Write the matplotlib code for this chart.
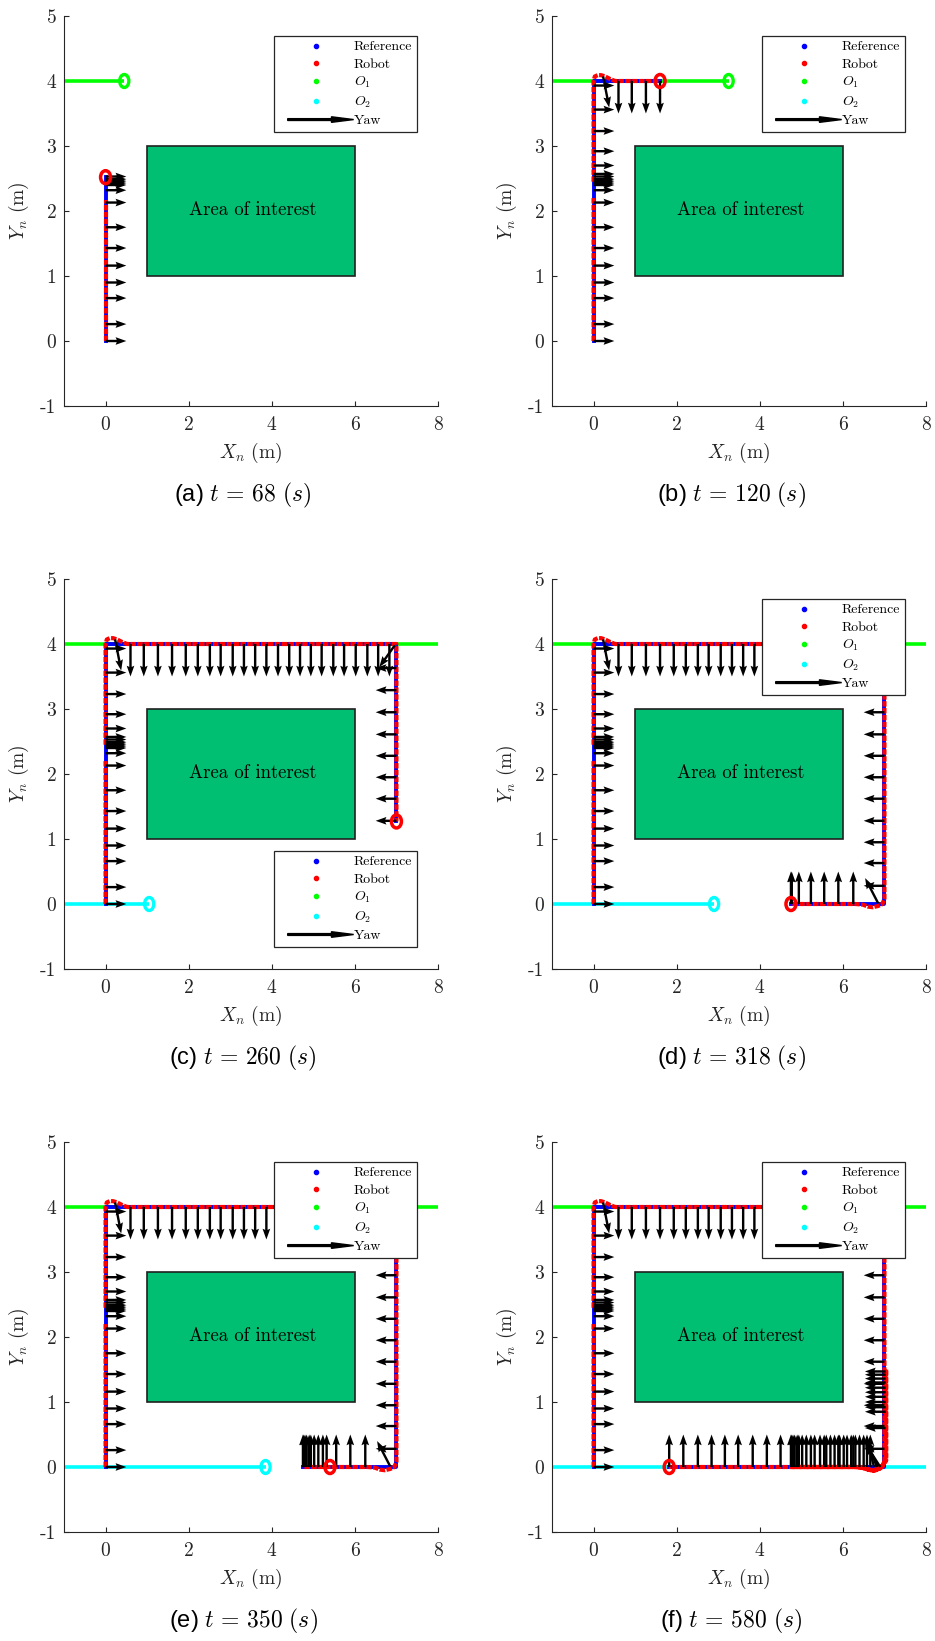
import matplotlib
matplotlib.use('Agg')
import matplotlib.pyplot as plt
import numpy as np
from matplotlib.lines import Line2D
from matplotlib.patches import Rectangle, Ellipse, FancyArrow
from matplotlib.legend_handler import HandlerBase

plt.rcParams['font.family'] = 'cmr10'
plt.rcParams['mathtext.fontset'] = 'cm'
plt.rcParams['axes.unicode_minus'] = False
plt.rcParams['axes.formatter.use_mathtext'] = True

# ---- data ----
captions = ['(a)', '(b)', '(c)', '(d)', '(e)', '(f)']
times = [68, 120, 260, 318, 350, 580]

xticks = [0, 2, 4, 6, 8]
xticklabels = ['0', '2', '4', '6', '8']
yticks = [-1, 0, 1, 2, 3, 4, 5]
yticklabels = ['-1', '0', '1', '2', '3', '4', '5']

# area of interest
aoi_x0, aoi_y0, aoi_w, aoi_h = 1, 1, 5, 2

# robot (current position) per panel
robot_px = [0.0, 1.6, 7.0, 4.75, 5.4, 1.82]
robot_py = [2.52, 4.0, 1.27, 0.0, 0.0, 0.0]

# obstacle tracks: O1 along y=4, O2 along y=0 (None = not present yet)
o1_end = [0.45, 3.25, 9.0, 9.0, 9.0, 9.0]
o2_end = [None, None, 1.05, 2.9, 3.85, 9.0]

# reference trajectory per panel
ref_paths_x = [[0, 0], [0, 0, 1.6], [0, 0, 7, 7], [0, 0, 7, 7, 4.75],
               [0, 0, 7, 7, 4.75], [0, 0, 7, 7, 1.82]]
ref_paths_y = [[0, 2.52], [0, 4, 4], [0, 4, 4, 1.27], [0, 4, 4, 0, 0],
               [0, 4, 4, 0, 0], [0, 4, 4, 0, 0]]

# robot trajectory pieces
rob_a_x = [0, 0]
rob_a_y = [0, 2.17]
rob_up_x = [0, 0, np.nan, 0, 0, 0.03, 0.1, 0.18, 0.28, 0.4, 0.52, 0.65]
rob_up_y = [0, 2.2, np.nan, 2.45, 4.0, 4.07, 4.09, 4.09, 4.07, 4.03, 4.0, 4.0]
rob_top_x = [7.0]
rob_top_y = [4.0]
rob_right_x = [7.0]
rob_right_y = [0.08]
rob_bot_x = [6.95, 6.85, 6.72, 6.6, 6.48, 6.3, 5.5, 4.75]
rob_bot_y = [0.0, -0.03, -0.05, -0.04, -0.01, 0.0, 0.0, 0.0]
rob_back_x = [6.4, 6.6, 6.75, 6.9, 7.04, 7.04, 7.04, 6.85, 6.7, 6.5, 6.3, 1.82]
rob_back_y = [0.0, -0.04, -0.06, -0.02, 0.1, 1.5, 0.1, -0.04, -0.05, -0.01, 0.0, 0.0]

# yaw arrows, in time order (x, y, heading in degrees)
up1_y = [0.0, 0.26, 0.66, 0.90, 1.16, 1.43, 1.75, 2.13, 2.32, 2.40, 2.43, 2.46, 2.49, 2.53]
up2_y = [2.57, 2.70, 2.92, 3.23, 3.56, 3.93]
corner1 = (0.23, 4.07, -73)
top1_x = [0.60, 0.92, 1.26, 1.60]
top2_x = [1.93, 2.22, 2.51, 2.77, 3.06, 3.33, 3.60, 3.87, 4.15, 4.42, 4.68, 4.94,
          5.20, 5.48, 5.74, 6.02, 6.30, 6.56, 6.83]
corner2 = (6.96, 3.98, -138)
right1_y = [3.63, 3.29, 2.95, 2.61, 2.28, 1.95, 1.62, 1.28]
right2_y = [0.95, 0.63, 0.28]
corner3 = (6.85, 0.01, 129)
bot1_x = [6.25, 5.89, 5.55, 5.23, 4.94, 4.77, 4.75]
bot2_x = [4.80, 4.84, 4.90, 5.02, 5.12, 5.32]
bot3_x = [5.45, 5.6, 5.7, 5.8, 5.92, 6.02, 6.1, 6.2, 6.3, 6.4, 6.5, 6.58, 6.66]
corner4_x = [6.75, 6.82, 6.9]
corner4_deg = [112, 122, 135]
right3_y = [0.60, 0.85, 0.92, 1.0, 1.08, 1.15, 1.22, 1.30, 1.36, 1.42, 1.47]
bot4_x = [4.50, 4.17, 3.83, 3.48, 3.16, 2.84, 2.51, 2.16, 1.82]

yaw_x, yaw_y, yaw_deg, n_arrows = [], [], [], []
def add(xs, ys, ds):
    yaw_x.extend(xs); yaw_y.extend(ys); yaw_deg.extend(ds)

add([0] * len(up1_y), up1_y, [0] * len(up1_y)); n_arrows.append(len(yaw_x))
add([0] * len(up2_y), up2_y, [0] * len(up2_y))
add([corner1[0]], [corner1[1]], [corner1[2]])
add(top1_x, [4] * len(top1_x), [-90] * len(top1_x)); n_arrows.append(len(yaw_x))
add(top2_x, [4] * len(top2_x), [-90] * len(top2_x))
add([corner2[0]], [corner2[1]], [corner2[2]])
add([7] * len(right1_y), right1_y, [180] * len(right1_y)); n_arrows.append(len(yaw_x))
add([7] * len(right2_y), right2_y, [180] * len(right2_y))
add([corner3[0]], [corner3[1]], [corner3[2]])
add(bot1_x, [0] * len(bot1_x), [90] * len(bot1_x)); n_arrows.append(len(yaw_x))
add(bot2_x, [0] * len(bot2_x), [90] * len(bot2_x)); n_arrows.append(len(yaw_x))
add(bot3_x, [0] * len(bot3_x), [90] * len(bot3_x))
add(corner4_x, [0] * len(corner4_x), corner4_deg)
add([7.03] * len(right3_y), right3_y, [180] * len(right3_y))
add(bot4_x, [0] * len(bot4_x), [90] * len(bot4_x)); n_arrows.append(len(yaw_x))
yaw_x = np.array(yaw_x); yaw_y = np.array(yaw_y); yaw_deg = np.array(yaw_deg)
arrow_len = 0.5

# robot path per panel
rob_paths_x = [rob_a_x,
               rob_up_x + [robot_px[1]],
               rob_up_x + rob_top_x + [robot_px[2]],
               rob_up_x + rob_top_x + rob_right_x + rob_bot_x,
               rob_up_x + rob_top_x + rob_right_x + rob_bot_x,
               rob_up_x + rob_top_x + rob_right_x + rob_bot_x + rob_back_x]
rob_paths_y = [rob_a_y,
               rob_up_y + [robot_py[1]],
               rob_up_y + rob_top_y + [robot_py[2]],
               rob_up_y + rob_top_y + rob_right_y + rob_bot_y,
               rob_up_y + rob_top_y + rob_right_y + rob_bot_y,
               rob_up_y + rob_top_y + rob_right_y + rob_bot_y + rob_back_y]

legend_top = [0.949, 0.949, 0.303, 0.949, 0.949, 0.949]

ink = '#262626'


class YawHandler(HandlerBase):
    def create_artists(self, legend, orig_handle, xdescent, ydescent,
                       width, height, fontsize, trans):
        y = height / 2 - ydescent
        x0 = -xdescent + 0.12 * width
        a = FancyArrow(x0, y, width - 0.12 * width, 0, width=1.3, head_width=4.0,
                       head_length=16, length_includes_head=True,
                       color='k', transform=trans)
        return [a]


fig = plt.figure(figsize=(9.35, 16.41), dpi=100)
lefts = [64, 552]
tops = [16, 579, 1142]
W, H = 935.0, 1641.0

for i in range(6):
    col = i % 2
    row = i // 2
    ax = fig.add_axes([lefts[col] / W, 1 - (tops[row] + 390) / H, 374 / W, 390 / H])
    ax.set_xlim(-1, 8)
    ax.set_ylim(-1, 5)

    ax.add_patch(Rectangle((aoi_x0, aoi_y0), aoi_w, aoi_h, facecolor='#00BF73',
                           edgecolor='#202020', lw=1.2, zorder=1))
    ax.text(aoi_x0 + aoi_w / 2 + 0.05, aoi_y0 + aoi_h / 2 + 0.02, 'Area of interest',
            ha='center', va='center', fontsize=13.5, zorder=2)

    # obstacles
    ax.plot([-1.5, o1_end[i]], [4, 4], color=(0, 1, 0), lw=2.6, zorder=2,
            solid_capstyle='butt')
    ax.add_patch(Ellipse((o1_end[i], 4), 0.22, 0.2, fill=False, ec=(0, 1, 0), lw=2.4, zorder=2))
    if o2_end[i] is not None:
        ax.plot([-1.5, o2_end[i]], [0, 0], color=(0, 1, 1), lw=2.6, zorder=2,
                solid_capstyle='butt')
        ax.add_patch(Ellipse((o2_end[i], 0), 0.22, 0.2, fill=False, ec=(0, 1, 1), lw=2.4, zorder=2))

    # reference and robot
    ax.plot(ref_paths_x[i], ref_paths_y[i], color='b', lw=2.8, zorder=3)
    ax.plot(rob_paths_x[i], rob_paths_y[i], color='r', lw=3.0, zorder=4,
            linestyle=(0, (1.3, 0.35)))

    # yaw arrows
    n = n_arrows[i]
    th = np.deg2rad(yaw_deg[:n])
    ax.quiver(yaw_x[:n], yaw_y[:n], arrow_len * np.cos(th), arrow_len * np.sin(th),
              angles='xy', scale_units='xy', scale=1, color='k', width=0.0064,
              headwidth=3.2, headlength=4.5, headaxislength=4.0, zorder=5)

    ax.add_patch(Ellipse((robot_px[i], robot_py[i]), 0.24, 0.2, fill=False, ec='r',
                         lw=2.5, zorder=6))

    # axes styling
    for s in ['top', 'right']:
        ax.spines[s].set_visible(False)
    for s in ['left', 'bottom']:
        ax.spines[s].set_color(ink)
        ax.spines[s].set_linewidth(0.8)
    ax.set_xticks(xticks)
    ax.set_xticklabels(xticklabels)
    ax.set_yticks(yticks)
    ax.set_yticklabels(yticklabels)
    ax.tick_params(direction='in', length=3.5, width=0.8, colors=ink, labelsize=14)
    ax.tick_params(axis='x', pad=7)
    ax.tick_params(axis='y', pad=5.5)
    ax.set_xlabel(r'$X_n$ (m)', fontsize=14, color=ink)
    ax.set_ylabel(r'$Y_n$ (m)', fontsize=14, color=ink)
    ax.xaxis.set_label_coords(0.5, -0.09)
    ax.yaxis.set_label_coords(-0.087, 0.5)

    handles = [Line2D([], [], ls='none', marker='o', ms=3, color='b'),
               Line2D([], [], ls='none', marker='o', ms=3, color='r'),
               Line2D([], [], ls='none', marker='o', ms=3, color=(0, 1, 0)),
               Line2D([], [], ls='none', marker='o', ms=3, color=(0, 1, 1)),
               FancyArrow(0, 0, 1, 0)]
    labels = ['Reference', 'Robot', r'$O_1$', r'$O_2$', 'Yaw']
    leg = ax.legend(handles, labels, loc='upper left',
                    bbox_to_anchor=(0.561, legend_top[i]), fontsize=10,
                    handlelength=5.4, handletextpad=0.0, borderpad=0.35,
                    borderaxespad=0.0, labelspacing=0.32, fancybox=False,
                    framealpha=1, edgecolor=ink,
                    handler_map={FancyArrow: YawHandler()})
    leg.get_frame().set_linewidth(0.9)
    leg.set_zorder(10)

    cx = (lefts[col] + 187 - 8) / W
    cy = 1 - (tops[row] + 479) / H
    fig.text(cx, cy, captions[i] + r' $t\,=\,%d\ (s)$' % times[i], ha='center',
             va='center', fontsize=17, fontfamily='Liberation Sans')

fig.savefig('out.png', dpi=100)
